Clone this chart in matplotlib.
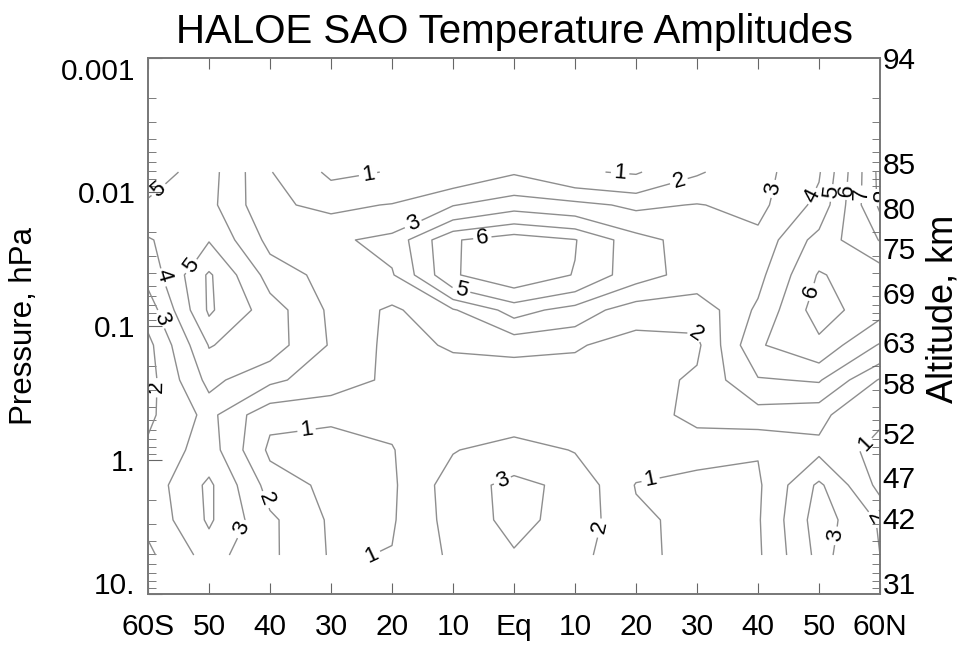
import numpy as np
import matplotlib
matplotlib.use("Agg")
import matplotlib.pyplot as plt
from matplotlib.ticker import FixedLocator, LogLocator, NullFormatter

plt.rcParams['font.family'] = ['Liberation Sans', 'DejaVu Sans']

# latitude grid (deg, south negative) and pressure levels (hPa)
lats = [-60, -50, -40, -30, -20, -10, 0, 10, 20, 30, 40, 50, 60]
pres = [0.0071, 0.0125, 0.0228, 0.0416, 0.076, 0.139, 0.253, 0.461, 0.842, 1.54, 2.80, 5.12]

# SAO temperature amplitude (K), one row per pressure level (top -> bottom)
amp = [
    [5.6, 4.4, 2.05, 0.8, 1.05, 1.3, 1.9, 1.1, 0.9, 1.9, 2.6, 3.9, 8.3],
    [4.8, 4.3, 2.15, 1.8, 2.05, 2.95, 3.6, 3.3, 2.8, 3.05, 2.7, 4.3, 8.2],
    [3.9, 4.95, 2.7, 2.8, 3.3, 5.9, 6.6, 6.05, 4.4, 3.5, 3.3, 5.4, 7.05],
    [3.3, 6.15, 3.6, 2.6, 2.9, 5.9, 6.7, 5.95, 4.4, 3.6, 3.7, 6.1, 5.3],
    [2.4, 6.15, 4.5, 2.8, 1.8, 2.9, 4.4, 3.6, 2.4, 2.3, 4.2, 6.5, 5.3],
    [1.7, 5.05, 4.5, 2.9, 1.7, 2.1, 2.2, 2.1, 1.6, 1.8, 4.9, 5.7, 3.9],
    [1.6, 4.3, 3.2, 2.5, 1.8, 1.5, 1.5, 1.5, 1.5, 2.2, 3.9, 4.1, 1.9],
    [1.8, 3.3, 1.2, 1.15, 1.2, 1.4, 1.5, 1.6, 1.5, 2.3, 2.5, 2.2, 1.2],
    [2.2, 3.5, 0.8, 0.6, 0.95, 1.95, 2.4, 1.95, 1.5, 1.3, 1.05, 1.8, 0.6],
    [2.4, 4.2, 1.6, 0.7, 0.85, 2.5, 3.3, 2.7, 0.95, 0.7, 0.85, 3.2, 0.7],
    [2.2, 4.15, 2.2, 0.85, 0.9, 2.4, 3.3, 2.6, 1.2, 0.7, 0.9, 3.5, 1.9],
    [1.8, 3.4, 2.2, 0.9, 1.05, 2.2, 2.9, 2.3, 1.3, 0.6, 0.85, 3.3, 2.0],
]
levels = [1, 2, 3, 4, 5, 6, 7, 8]

lat_ticks = [-60, -50, -40, -30, -20, -10, 0, 10, 20, 30, 40, 50, 60]
lat_labels = ['60S', '50', '40', '30', '20', '10', 'Eq', '10', '20', '30', '40', '50', '60N']
p_ticks = [0.001, 0.01, 0.1, 1, 10]
p_labels = ['0.001', '0.01', '0.1', '1.', '10.']
alt_p = [0.001, 0.00608, 0.0132, 0.0262, 0.0568, 0.132, 0.266, 0.629, 1.34, 2.71, 10]
alt_labels = ['94', '85', '80', '75', '69', '63', '58', '52', '47', '42', '31']

# where the contour labels sit (lat, hPa)
label_pos = [(-23.9, 0.0075), (17.4, 0.0072), (26.9, 0.0079), (43.9, 0.0097),
             (49.3, 0.0109), (51.6, 0.010), (54.3, 0.0097), (57.0, 0.0103),
             (59.3, 0.0109), (-57.5, 0.0105), (-16.2, 0.0186), (-5.1, 0.024),
             (-8.5, 0.051), (-57.2, 0.0416), (-52.6, 0.0363), (-57.2, 0.0857),
             (46.9, 0.052), (30.0, 0.098), (-56.9, 0.285), (-33.9, 0.65),
             (56.4, 0.673), (-1.8, 1.46), (22.3, 1.34), (-39.7, 1.89),
             (-44.9, 3.21), (-26.4, 3.75), (14.6, 3.21), (52.6, 3.63), (58.0, 2.95)]

fig = plt.figure(figsize=(9.65, 6.49), dpi=100)
ax = fig.add_axes([148 / 965, 1 - 594 / 649, 732 / 965, 536 / 649])

cs = ax.contour(lats, pres, np.array(amp), levels=levels, colors='#8e8e8e', linewidths=1.0)
ax.set_yscale('log')
ax.set_xlim(-60, 60)
ax.set_ylim(10, 0.001)
ax.clabel(cs, levels, fmt='%d', fontsize=16, colors='black', inline=True,
          inline_spacing=3, manual=label_pos)

ax.set_xticks(lat_ticks)
ax.set_xticklabels(lat_labels)
ax.set_yticks(p_ticks)
ax.set_yticklabels(p_labels)
ax.yaxis.set_minor_locator(LogLocator(base=10, subs=np.arange(2, 10)))
ax.yaxis.set_minor_formatter(NullFormatter())
ax.tick_params(axis='x', which='both', direction='in', top=True, length=8,
               labelsize=21.5, pad=14, color='#666666')
ax.tick_params(axis='y', which='major', direction='in', right=False, length=10,
               labelsize=21.5, pad=9, color='#666666')
ax.tick_params(axis='y', which='minor', direction='in', right=False, length=6,
               color='#666666')
ylabs = ax.get_yticklabels()
ylabs[0].set_va('top')
ylabs[-1].set_va('baseline')

ax2 = ax.twinx()
ax2.set_yscale('log')
ax2.set_ylim(10, 0.001)
ax2.yaxis.set_major_locator(FixedLocator(alt_p))
ax2.set_yticklabels(alt_labels)
ax2.yaxis.set_minor_locator(LogLocator(base=10, subs=np.arange(2, 10)))
ax2.yaxis.set_minor_formatter(NullFormatter())
ax2.tick_params(axis='y', which='major', length=0, labelsize=21.5, pad=2)
ax2.tick_params(axis='y', which='minor', direction='in', length=6, color='#666666')
ax2.get_yticklabels()[-1].set_va('baseline')

for a in (ax, ax2):
    for s in a.spines.values():
        s.set_color('#777777')
        s.set_linewidth(1.2)

ax.set_title('HALOE SAO Temperature Amplitudes', fontsize=29, pad=11)
fig.text(24 / 965, 1 - 326 / 649, 'Pressure, hPa', rotation=90, fontsize=22.5,
         ha='center', va='center')
fig.text(943 / 965, 1 - 309 / 649, 'Altitude, km', rotation=90, fontsize=26,
         ha='center', va='center')

fig.savefig('out.png', dpi=100)
